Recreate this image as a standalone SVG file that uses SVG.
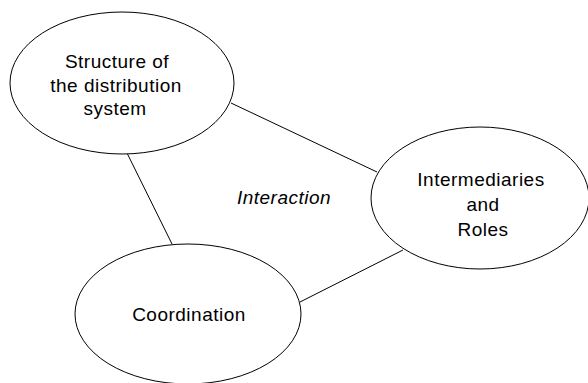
<svg xmlns="http://www.w3.org/2000/svg" width="588" height="383" viewBox="0 0 588 383">
  <style>
    .node { fill: #ffffff; stroke: #000000; stroke-width: 1; }
    .link { stroke: #000000; stroke-width: 1; fill: none; }
    .label { font-family: "Liberation Sans", Arial, sans-serif; font-size: 19px; letter-spacing: 0.5px; fill: #000000; text-anchor: middle; }
    .italic { font-style: italic; }
  </style>
  <rect width="588" height="383" fill="#ffffff"/>
  <g id="connectors">
    <line class="link" x1="231" y1="103" x2="377" y2="172"/>
    <line class="link" x1="127" y1="153" x2="172" y2="244"/>
    <line class="link" x1="300" y1="302" x2="403" y2="250"/>
  </g>
  <g id="structure">
    <ellipse class="node" cx="122" cy="83" rx="112" ry="71"/>
    <text class="label" x="117" y="68">Structure of</text>
    <text class="label" x="116" y="92">the distribution</text>
    <text class="label" x="115" y="115">system</text>
  </g>
  <g id="intermediaries">
    <ellipse class="node" cx="480" cy="198" rx="109" ry="71"/>
    <text class="label" x="481" y="186">Intermediaries</text>
    <text class="label" x="483" y="211">and</text>
    <text class="label" x="483" y="236">Roles</text>
  </g>
  <g id="coordination">
    <ellipse class="node" cx="188" cy="314" rx="113" ry="70"/>
    <text class="label" x="189" y="321">Coordination</text>
  </g>
  <g id="interaction">
    <text class="label italic" x="284" y="204">Interaction</text>
  </g>
</svg>
